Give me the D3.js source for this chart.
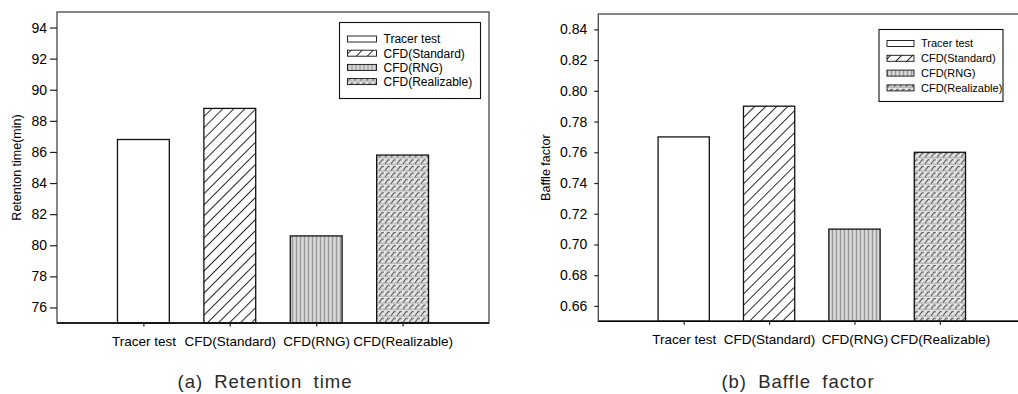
<!DOCTYPE html>
<html>
<head>
<meta charset="utf-8">
<script src="https://cdn.jsdelivr.net/npm/d3@7"></script>
<style>
  body { margin: 0; background: #fff; }
  svg { display: block; font-family: Arial, "Liberation Sans", sans-serif; }
</style>
</head>
<body>
<script>
// values
const categories = ["Tracer test", "CFD(Standard)", "CFD(RNG)", "CFD(Realizable)"];
const retentionTime = [86.8, 88.8, 80.6, 85.8];
const baffleFactor = [0.77, 0.79, 0.71, 0.76];
const retentionTicks = [76, 78, 80, 82, 84, 86, 88, 90, 92, 94];
const baffleTicks = [0.66, 0.68, 0.70, 0.72, 0.74, 0.76, 0.78, 0.80, 0.82, 0.84];
const patternIds = ["pat-plain", "pat-hatch", "pat-rng", "pat-real"];

const svg = d3.select("body")
    .append("svg")
    .attr("width", 1018)
    .attr("height", 394);

const defs = svg.append("defs");

// white fill for the tracer test
defs.append("pattern").attr("id", "pat-plain")
    .attr("patternUnits", "userSpaceOnUse").attr("width", 4).attr("height", 4)
    .append("rect").attr("width", 4).attr("height", 4).attr("fill", "#fff");

// diagonal hatch
const hatch = defs.append("pattern").attr("id", "pat-hatch")
    .attr("patternUnits", "userSpaceOnUse").attr("width", 7.8).attr("height", 7.8)
    .attr("patternTransform", "rotate(45)");
hatch.append("rect").attr("width", 7.8).attr("height", 7.8).attr("fill", "#fff");
hatch.append("line").attr("x1", 0.5).attr("y1", 0).attr("x2", 0.5).attr("y2", 7.8)
    .attr("stroke", "#111").attr("stroke-width", 0.9);

// gray vertical stripes
const rng = defs.append("pattern").attr("id", "pat-rng")
    .attr("patternUnits", "userSpaceOnUse").attr("width", 4).attr("height", 4);
rng.append("rect").attr("width", 4).attr("height", 4).attr("fill", "#c9c9c9");
rng.append("rect").attr("x", 0).attr("width", 1).attr("height", 4).attr("fill", "#9a9a9a");
rng.append("rect").attr("x", 2).attr("width", 1).attr("height", 4).attr("fill", "#dcdcdc");

// small slashes in rows
const real = defs.append("pattern").attr("id", "pat-real")
    .attr("patternUnits", "userSpaceOnUse").attr("width", 6).attr("height", 6.6);
real.append("rect").attr("width", 6).attr("height", 6.6).attr("fill", "#e4e4e4");
real.append("line").attr("x1", 0).attr("y1", 5.8).attr("x2", 6).attr("y2", 5.8)
    .attr("stroke", "#999").attr("stroke-width", 0.9);
real.append("path").attr("d", "M1,5.4 L4,1.6 Q5,1 5.6,2")
    .attr("fill", "none").attr("stroke", "#444").attr("stroke-width", 1);

function drawPanel(cfg) {
    const g = svg.append("g");

    const x = d3.scalePoint()
        .domain(categories)
        .range([cfg.left, cfg.right])
        .padding(1);

    const y = d3.scaleLinear()
        .domain(cfg.domain)
        .range([cfg.bottom, cfg.top]);

    const barW = x.step() * 0.6;

    // bars
    g.selectAll(".bar")
        .data(cfg.values)
        .enter()
        .append("rect")
        .attr("class", "bar")
        .attr("x", (d, i) => x(categories[i]) - barW / 2)
        .attr("y", d => y(d))
        .attr("width", barW)
        .attr("height", d => y(cfg.domain[0]) - y(d))
        .attr("fill", (d, i) => `url(#${patternIds[i]})`)
        .attr("stroke", "#111")
        .attr("stroke-width", 1.3);

    // frame
    g.append("rect")
        .attr("x", cfg.left).attr("y", cfg.top)
        .attr("width", cfg.right - cfg.left).attr("height", cfg.bottom - cfg.top)
        .attr("fill", "none").attr("stroke", "#555").attr("stroke-width", 1.4);

    // y axis
    const yAxis = g.append("g")
        .attr("transform", `translate(${cfg.left},0)`)
        .call(d3.axisLeft(y).tickValues(cfg.ticks).tickSize(cfg.tickLen)
            .tickPadding(cfg.tickPad).tickFormat(cfg.fmt));
    yAxis.select(".domain").remove();
    yAxis.selectAll("line").attr("stroke", "#222").attr("stroke-width", 1.2);
    yAxis.selectAll("text").attr("font-size", 14).attr("fill", "#000")
        .attr("font-family", "Arial, 'Liberation Sans', sans-serif");

    // x axis
    const xAxis = g.append("g")
        .attr("transform", `translate(0,${cfg.bottom})`)
        .call(d3.axisBottom(x).tickSize(3.5).tickPadding(10));
    xAxis.select(".domain")
        .attr("d", `M${cfg.left},0H${cfg.right}`)
        .attr("stroke", "#000").attr("stroke-width", 1.6);
    xAxis.selectAll("line").attr("stroke", "#222").attr("stroke-width", 1.2);
    xAxis.selectAll("text").attr("font-size", 13.5).attr("fill", "#000")
        .attr("font-family", "Arial, 'Liberation Sans', sans-serif");

    // y title
    g.append("text")
        .attr("transform", `translate(${cfg.titleX},${(cfg.top + cfg.bottom) / 2}) rotate(-90)`)
        .attr("text-anchor", "middle")
        .attr("font-size", 12.5)
        .attr("fill", "#000")
        .text(cfg.yTitle);

    // legend
    const lg = g.append("g");
    lg.append("rect")
        .attr("x", cfg.legend.x).attr("y", cfg.legend.y)
        .attr("width", cfg.legend.w).attr("height", cfg.legend.h)
        .attr("fill", "#fff").attr("stroke", "#111").attr("stroke-width", 1.1);
    const rows = lg.selectAll(".row")
        .data(categories)
        .enter()
        .append("g")
        .attr("class", "row")
        .attr("transform", (d, i) => `translate(${cfg.legend.x + 8},${cfg.legend.y + cfg.legend.first + i * cfg.legend.step})`);
    rows.append("rect")
        .attr("x", 0).attr("y", -3)
        .attr("width", cfg.legend.sw).attr("height", 6)
        .attr("fill", (d, i) => `url(#${patternIds[i]})`)
        .attr("stroke", "#111").attr("stroke-width", 0.9);
    rows.append("text")
        .attr("x", cfg.legend.tx)
        .attr("dy", "0.36em")
        .attr("font-size", cfg.legend.fs)
        .attr("fill", "#000")
        .text(d => d);

    // caption
    g.append("text")
        .attr("x", cfg.capX)
        .attr("y", 388)
        .attr("text-anchor", "middle")
        .attr("font-size", 18.5)
        .attr("letter-spacing", 1)
        .attr("word-spacing", 5)
        .attr("fill", "#2a2a2a")
        .text(cfg.caption);
}

drawPanel({
    left: 57, right: 489, top: 12, bottom: 323,
    domain: [75, 95], values: retentionTime, ticks: retentionTicks,
    fmt: d3.format("d"), tickLen: 7, tickPad: 3,
    yTitle: "Retenton time(min)", titleX: 21,
    legend: { x: 339.5, y: 22.5, w: 141, h: 76, first: 16.5, step: 14.2, sw: 29, tx: 36, fs: 12 },
    caption: "(a) Retention time", capX: 265
});

drawPanel({
    left: 598.3, right: 1025.3, top: 14, bottom: 321.3,
    domain: [0.65, 0.85], values: baffleFactor, ticks: baffleTicks,
    fmt: d3.format(".2f"), tickLen: 4, tickPad: 7,
    yTitle: "Baffle factor", titleX: 550,
    legend: { x: 879, y: 29.5, w: 124, h: 72, first: 14, step: 14.8, sw: 27, tx: 34, fs: 11 },
    caption: "(b) Baffle factor", capX: 798
});
</script>
</body>
</html>
